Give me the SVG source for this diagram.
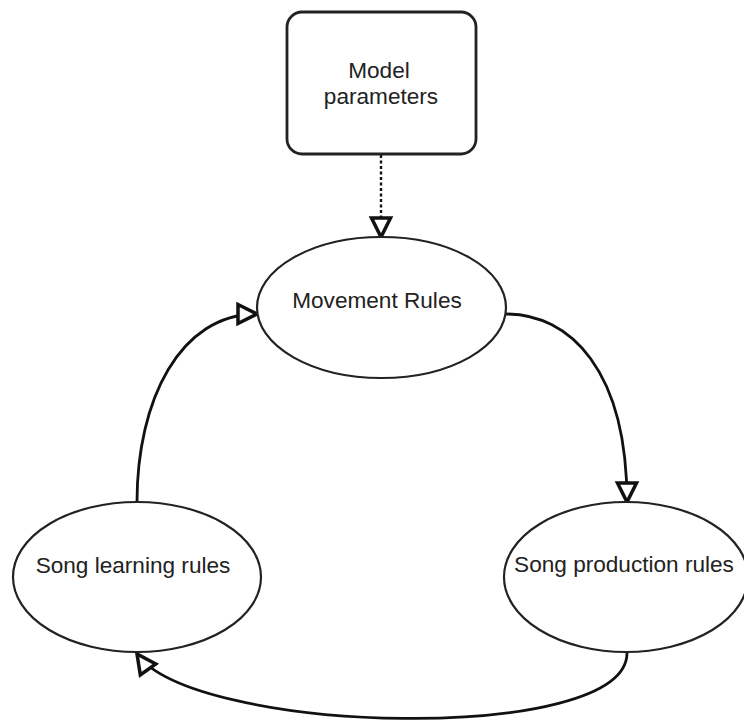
<svg xmlns="http://www.w3.org/2000/svg" width="744" height="727" viewBox="0 0 744 727">
<style>
.node{fill:#fff;stroke:#222;stroke-width:2.2}
.lbl{font-family:"Liberation Sans",Arial,sans-serif;font-size:22.6px;fill:#222;text-anchor:middle}
.edge{fill:none;stroke:#111;stroke-width:2.8}
.dash{stroke-dasharray:3 2.5;stroke-width:2.4}
</style>
<defs>
<marker id="tri" markerUnits="userSpaceOnUse" markerWidth="32" markerHeight="32" viewBox="0 0 32 32" refX="23" refY="16" orient="auto">
<path d="M4,6.5 L23,16 L4,25.5 Z" fill="#fff" stroke="#111" stroke-width="3.5" stroke-linejoin="miter"/>
</marker>
</defs>
<rect width="744" height="727" fill="#fff"/>
<g id="connectors">
<path class="edge dash" d="M381,155 L381,237" marker-end="url(#tri)"/>
<path class="edge" d="M506,314 C570,314 627,370 627,502" marker-end="url(#tri)"/>
<path class="edge" d="M137,502 C137,400 180,314 257,314" marker-end="url(#tri)"/>
<path class="edge" d="M627,653 C627,745 195,735 137,654" marker-end="url(#tri)"/>
</g>
<g id="model-parameters">
<rect class="node" x="287" y="12" width="189" height="142" rx="15" ry="15" style="stroke-width:2.8"/>
<text class="lbl" x="379" y="78">Model</text>
<text class="lbl" x="381" y="104">parameters</text>
</g>
<g id="movement-rules">
<ellipse class="node" cx="381.5" cy="307.5" rx="124.5" ry="70.5"/>
<text class="lbl" x="377" y="308">Movement Rules</text>
</g>
<g id="song-learning-rules">
<ellipse class="node" cx="137" cy="577" rx="124" ry="75"/>
<text class="lbl" x="133" y="573">Song learning rules</text>
</g>
<g id="song-production-rules">
<ellipse class="node" cx="626" cy="577" rx="122" ry="75"/>
<text class="lbl" x="624" y="572">Song production rules</text>
</g>
</svg>
